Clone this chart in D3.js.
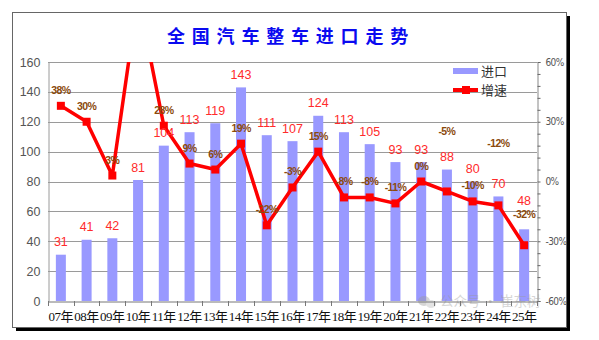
<!DOCTYPE html>
<html><head><meta charset="utf-8">
<script src="https://cdn.jsdelivr.net/npm/d3@7"></script>
<style>
html,body{margin:0;padding:0;background:#fff;}
svg{display:block;}
</style></head>
<body>
<svg id="chart" width="599" height="340"></svg>
<script>
const years = ['07年','08年','09年','10年','11年','12年','13年','14年','15年','16年','17年','18年','19年','20年','21年','22年','23年','24年','25年'];
const imports = [31,41,42,81,104,113,119,143,111,107,124,113,105,93,93,88,80,70,48];
const growth = [38,30,3,93,28,9,6,19,-22,-3,15,-8,-8,-11,0,-5,-10,-12,-32];
const growthLabels = ['38%','30%','3%','93%','28%','9%','6%','19%','-22%','-3%','15%','-8%','-8%','-11%','0%','-5%','-10%','-12%','-32%'];
const leftTicks = [0,20,40,60,80,100,120,140,160];
const rightTicks = [-60,-30,0,30,60];
const rightTickLabels = ['-60%','-30%','0%','30%','60%'];
const title = '全国汽车整车进口走势';
const legendNames = ['进口','增速'];

const svg = d3.select('#chart');
const L = 48, R = 537, T = 62, B = 301;
const barColor = '#9999ff', lineColor = '#ff0000';

// frame with shadow
svg.append('rect').attr('x',16).attr('y',16).attr('width',554).attr('height',315).attr('fill','#000');
svg.append('rect').attr('x',12.5).attr('y',12.5).attr('width',554).attr('height',315)
  .attr('fill','#fff').attr('stroke','#666').attr('stroke-width',1);

// title
svg.append('text').attr('x',167).attr('y',43).text(title)
  .attr('fill','#0a0af0').attr('font-size',18).attr('font-weight','bold')
  .attr('letter-spacing',6.8)
  .attr('font-family','"Noto Sans CJK SC", sans-serif');

const x = d3.scaleBand().domain(years).range([L,R]).padding(0);
const yL = d3.scaleLinear().domain([0,160]).range([B,T]);
const yR = d3.scaleLinear().domain([-60,60]).range([B,T]);

// gridlines
svg.append('g').selectAll('line').data(leftTicks.filter(d=>d>0)).join('line')
  .attr('x1',L).attr('x2',R).attr('y1',d=>Math.round(yL(d))+0.5).attr('y2',d=>Math.round(yL(d))+0.5)
  .attr('stroke','#9a9a9a').attr('stroke-width',1);

// left axis
const gL = svg.append('g').attr('transform',`translate(${L+0.5},0)`)
  .call(d3.axisLeft(yL).tickValues(leftTicks).tickSize(0).tickPadding(8));
gL.select('.domain').attr('stroke','#9a9a9a');
gL.selectAll('text').attr('font-size',12.5).attr('fill','#555').attr('font-family','"Liberation Sans", Arial, sans-serif');

// right axis
const gR = svg.append('g').attr('transform',`translate(${R+0.5},0)`)
  .call(d3.axisRight(yR).tickValues(d3.range(-60,61,6)).tickSize(3).tickPadding(5)
    .tickFormat(d=>{const i=rightTicks.indexOf(d);return i>=0?rightTickLabels[i]:'';}));
gR.select('.domain').attr('stroke','#888');
gR.selectAll('.tick line').attr('stroke','#666');
gR.selectAll('text').attr('font-size',10).attr('fill','#555').attr('letter-spacing',-0.6)
  .attr('font-family','"DejaVu Sans Condensed","Liberation Sans", sans-serif');

// bars
svg.append('g').selectAll('rect').data(imports).join('rect')
  .attr('x',(d,i)=>x(years[i])+x.bandwidth()/2-5)
  .attr('width',10)
  .attr('y',d=>yL(d)).attr('height',d=>B-yL(d))
  .attr('fill',barColor);

// watermark (behind axis labels)
const wm = svg.append('g').attr('opacity',0.4);
wm.append('ellipse').attr('cx',424).attr('cy',301).attr('rx',6).attr('ry',5).attr('fill','#999');
wm.append('ellipse').attr('cx',431).attr('cy',304).attr('rx',5).attr('ry',4).attr('fill','#bbb');
wm.append('text').attr('x',440).attr('y',306).text('公众号 · 崔东树').attr('font-size',13.5).attr('fill','#999')
  .attr('font-family','"Noto Sans CJK SC", sans-serif');

// x axis
const gX = svg.append('g').attr('transform',`translate(0,${B+0.5})`)
  .call(d3.axisBottom(x).tickSize(0).tickPadding(10));
gX.select('.domain').attr('stroke','#777');
gX.selectAll('text').attr('font-size',13).attr('fill','#111').attr('letter-spacing',-0.5)
  .attr('font-family','"Liberation Serif","Noto Sans CJK SC", serif');
svg.append('g').selectAll('line').data(d3.range(years.length+1)).join('line')
  .attr('x1',i=>Math.round(L+i*x.bandwidth())+0.5).attr('x2',i=>Math.round(L+i*x.bandwidth())+0.5)
  .attr('y1',B).attr('y2',B+5).attr('stroke','#777');

// line (clipped to plot)
svg.append('clipPath').attr('id','plotclip').append('rect')
  .attr('x',L-10).attr('y',T).attr('width',R-L+20).attr('height',B-T+10);
const cx = i => x(years[i])+x.bandwidth()/2;
const line = d3.line().x((d,i)=>cx(i)).y(d=>yR(d));
const gLine = svg.append('g').attr('clip-path','url(#plotclip)');
gLine.append('path').datum(growth).attr('d',line).attr('fill','none')
  .attr('stroke',lineColor).attr('stroke-width',3.5).attr('stroke-linejoin','round');
gLine.selectAll('rect').data(growth).join('rect')
  .attr('x',(d,i)=>cx(i)-4).attr('y',d=>yR(d)-4).attr('width',8).attr('height',8)
  .attr('fill',lineColor);

// bar value labels
const barLabelOffset = {18: 24};
svg.append('g').selectAll('text').data(imports).join('text')
  .attr('x',(d,i)=>cx(i)).attr('y',(d,i)=>yL(d)-(barLabelOffset[i]||8.5))
  .attr('text-anchor','middle').text(d=>d)
  .attr('fill','#ff2b2b').attr('font-size',12.5)
  .attr('font-family','"Liberation Sans", Arial, sans-serif');

// growth labels (labels whose point lies above the plot are hidden, as in the original)
const pctLabelOffset = {15: 56, 17: 58, 18: 27};
const visiblePct = growth.map((d,i)=>i).filter(i=>yR(growth[i])>=T);
svg.append('g').selectAll('text').data(visiblePct).join('text')
  .attr('x',i=>cx(i)).attr('y',i=>yR(growth[i])-(pctLabelOffset[i]||12))
  .attr('text-anchor','middle').text(i=>growthLabels[i])
  .attr('fill','#8b4a0c').attr('font-size',10.5).attr('font-weight','bold').attr('letter-spacing',-0.6)
  .attr('font-family','"Liberation Sans", Arial, sans-serif');

// legend
const lg = svg.append('g');
lg.append('rect').attr('x',453).attr('y',68).attr('width',25).attr('height',6).attr('fill',barColor);
lg.append('text').attr('x',481).attr('y',76).text(legendNames[0]).attr('font-size',13).attr('fill','#333')
  .attr('font-family','"Noto Sans CJK SC", sans-serif');
lg.append('line').attr('x1',453).attr('x2',478).attr('y1',90).attr('y2',90).attr('stroke',lineColor).attr('stroke-width',4);
lg.append('rect').attr('x',462).attr('y',86).attr('width',8).attr('height',8).attr('fill',lineColor);
lg.append('text').attr('x',481).attr('y',95).text(legendNames[1]).attr('font-size',13).attr('fill','#333')
  .attr('font-family','"Noto Sans CJK SC", sans-serif');
</script>
</body></html>
